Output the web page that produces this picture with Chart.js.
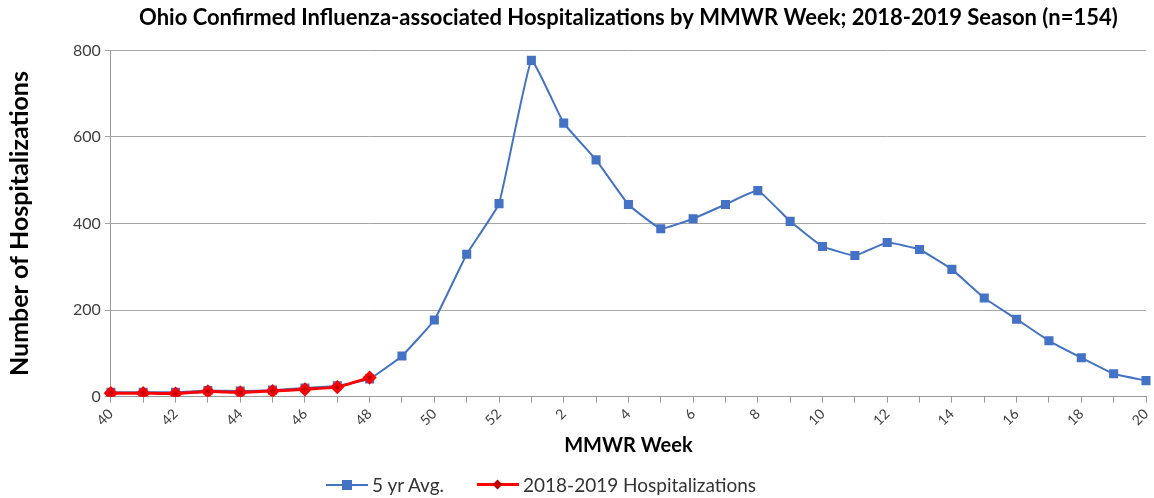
<!DOCTYPE html>
<html>
<head>
<meta charset="utf-8">
<script src="https://cdn.jsdelivr.net/npm/chart.js@4"></script>
<style>
  html, body { margin: 0; padding: 0; background: #fff; }
  #wrap { position: relative; width: 1154px; height: 498px; }
  #legend { position: absolute; left: 0; top: 472px; width: 1154px; height: 26px;
    font-family: Lato, "Open Sans", sans-serif; font-size: 19px; color: #333; }
  .item { position: absolute; top: 0; height: 26px; line-height: 26px; white-space: nowrap; }
  .swatch { position: absolute; top: 12px; height: 2px; width: 42px; }
  .mark { position: absolute; }
</style>
</head>
<body>
<div id="wrap">
  <canvas id="c" width="1154" height="498"></canvas>
  <div id="legend">
    <div class="item" style="left:326px;">
      <span class="swatch" style="left:0;background:#4472C4;"></span>
      <span class="mark" style="left:16px;top:8px;width:10px;height:10px;background:#4472C4;"></span>
      <span style="position:absolute;left:46px;">5 yr Avg.</span>
    </div>
    <div class="item" style="left:477px;">
      <span class="swatch" style="left:0;top:11px;height:3px;background:#FF0000;"></span>
      <span class="mark" style="left:17px;top:9px;width:7px;height:7px;background:#C00000;transform:rotate(45deg);"></span>
      <span style="position:absolute;left:46px;">2018-2019 Hospitalizations</span>
    </div>
  </div>
</div>
<script>
// MMWR weeks, season 40..20
const weeks = [40, 41, 42, 43, 44, 45, 46, 47, 48, 49, 50, 51, 52,
  1, 2, 3, 4, 5, 6, 7, 8, 9, 10, 11, 12, 13, 14, 15, 16, 17, 18, 19, 20];

const avg5yr = [10, 10, 10, 14, 13, 15, 20, 25, 41, 94, 177, 329, 446,
  777, 632, 547, 444, 388, 411, 444, 476, 405, 347, 326, 356, 340, 294, 228, 179, 129, 90, 53, 37];

const season1819 = [8, 8, 7, 12, 10, 13, 17, 22, 44];

const yTicks = [0, 200, 400, 600, 800];

const FONT = 'Lato, "Open Sans", sans-serif';

new Chart(document.getElementById('c'), {
  type: 'line',
  data: {
    labels: weeks.map(String),
    datasets: [{
      label: '5 yr Avg.',
      data: avg5yr,
      borderColor: '#4472C4',
      backgroundColor: '#4472C4',
      borderWidth: 2,
      tension: 0.1,
      pointStyle: 'rect',
      pointRadius: 5,
      pointHoverRadius: 5,
      order: 2
    }, {
      label: '2018-2019 Hospitalizations',
      data: season1819,
      borderColor: '#FF0000',
      backgroundColor: '#C00000',
      borderWidth: 3,
      tension: 0.1,
      pointStyle: 'rectRot',
      pointRadius: 5,
      pointHoverRadius: 5,
      order: 1
    }]
  },
  options: {
    responsive: false,
    animation: false,
    layout: { padding: { left: 5, right: 6, top: 0, bottom: 40 } },
    plugins: {
      legend: { display: false },
      tooltip: { enabled: false },
      title: {
        display: true,
        fullSize: false,
        text: 'Ohio Confirmed Influenza-associated Hospitalizations by MMWR Week; 2018-2019 Season (n=154)',
        color: '#000',
        font: { family: FONT, size: 22, weight: 'bold' },
        padding: { top: 5, bottom: 19 }
      }
    },
    scales: {
      x: {
        offset: false,
        afterFit: function (s) { s.paddingRight = 0; },
        grid: { display: true, drawOnChartArea: false, color: '#9a9a9a', tickLength: 6 },
        border: { color: '#9a9a9a' },
        ticks: {
          autoSkip: false,
          minRotation: 45,
          maxRotation: 45,
          color: '#404040',
          font: { family: FONT, size: 14 },
          callback: function (v, i) { return i % 2 === 0 ? weeks[i] : ''; }
        },
        title: {
          display: true,
          text: 'MMWR Week',
          color: '#000',
          font: { family: FONT, size: 20, weight: 'bold' },
          padding: { top: 2, bottom: 0 }
        }
      },
      y: {
        min: 0,
        max: 800,
        afterBuildTicks: function (s) { s.ticks = yTicks.map(v => ({ value: v })); },
        grid: { color: '#a6a6a6', tickLength: 6 },
        border: { color: '#9a9a9a' },
        ticks: {
          color: '#404040',
          font: { family: FONT, size: 16 },
          padding: 4
        },
        title: {
          display: true,
          text: 'Number of Hospitalizations',
          color: '#000',
          font: { family: FONT, size: 25, weight: 'bold' },
          padding: { top: 0, bottom: 34 }
        }
      }
    }
  }
});
</script>
</body>
</html>
